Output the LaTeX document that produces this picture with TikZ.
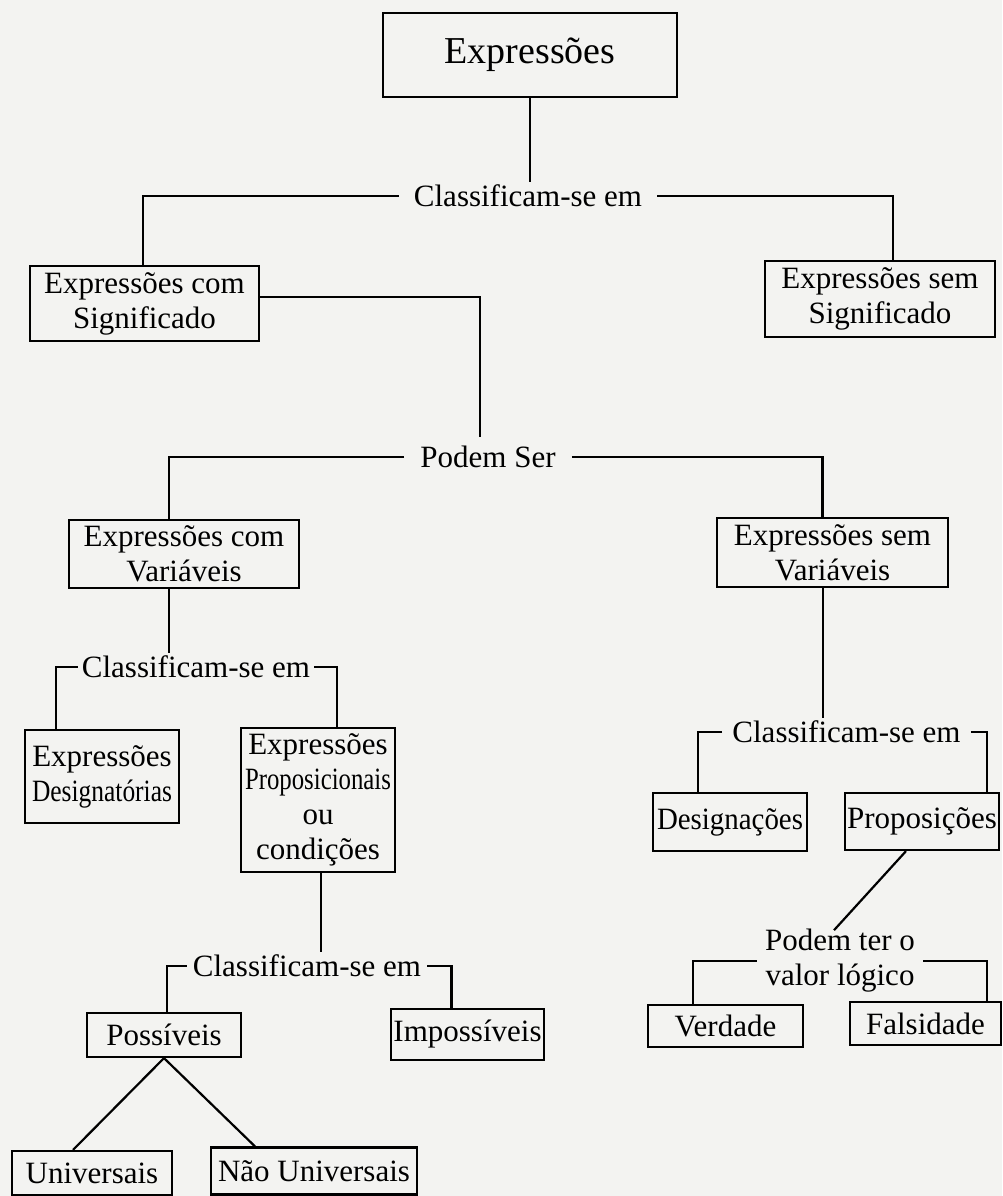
\documentclass[tikz,border=0pt]{standalone}
\usepackage{fontspec}
\setmainfont{Liberation Serif}
\usepackage{graphicx}
\newcommand\fsz{\fontsize{31}{35}\selectfont}
\newcommand\fst{\fontsize{38}{42}\selectfont}
\definecolor{paper}{RGB}{243,243,241}
\tikzset{
  box/.style={draw, line width=2.2pt, inner sep=0pt, align=center, font=\fsz},
  lbl/.style={inner ysep=3pt, align=center, font=\fsz},
  conn/.style={line width=2.2pt},
}
\begin{document}
\begin{tikzpicture}[x=1pt, y=-1pt]
\fill[paper] (0,0) rectangle (1002,1196);
\useasboundingbox (0,0) rectangle (1002,1196);

% boxes
\node[box, font=\fst, minimum width=294pt, minimum height=84pt] (title) at (530,55) {Expressões};
\node[box, minimum width=229pt, minimum height=75pt] (comsig) at (144.5,303.5) {Expressões com\\Significado};
\node[box, minimum width=230pt, minimum height=76pt] (semsig) at (880,299) {Expressões sem\\Significado};
\node[box, minimum width=230pt, minimum height=68pt] (comvar) at (184,554) {Expressões com\\Variáveis};
\node[box, minimum width=231pt, minimum height=69pt] (semvar) at (832.5,552.5) {Expressões sem\\Variáveis};
\node[box, minimum width=154pt, minimum height=93pt] (desig) at (102,776.5)
  {Expressões\\\resizebox{140pt}{\height}{Designatórias}};
\node[box, minimum width=154pt, minimum height=144pt] (prop) at (318,800)
  {Expressões\\\resizebox{146pt}{\height}{Proposicionais}\\ou\\condições};
\node[box, minimum width=154pt, minimum height=44pt] (poss) at (164,1035) {Possíveis};
\node[box, minimum width=153pt, minimum height=51pt] (imposs) at (467.5,1034.5) {Impossíveis};
\node[box, minimum width=160pt, minimum height=44pt] (univ) at (92,1173) {Universais};
\node[box, minimum width=206pt, minimum height=47pt] (naouniv) at (314,1171) {Não Universais};
\node[box, minimum width=154pt, minimum height=58pt] (design) at (730,822)
  {\resizebox{146pt}{\height}{Designações}};
\node[box, minimum width=154pt, minimum height=57pt] (props) at (922,821.5) {Proposições};
\node[box, minimum width=155pt, minimum height=42pt] (verd) at (725.5,1026) {Verdade};
\node[box, minimum width=151pt, minimum height=43pt] (fals) at (925.5,1023.5) {Falsidade};

% labels
\node[lbl, inner xsep=15pt] (cls1) at (528,196) {Classificam-se em};
\node[lbl, inner xsep=16pt] (podem) at (488,457) {Podem Ser};
\node[lbl, inner xsep=4pt] (cls2) at (196,667) {Classificam-se em};
\node[lbl, inner xsep=6pt] (cls3) at (307,966) {Classificam-se em};
\node[lbl, inner xsep=10pt] (cls4) at (846.5,732) {Classificam-se em};
\node[lbl, inner xsep=8pt] (podemter) at (840,961) {Podem ter o\\valor lógico};

% connectors
\draw[conn] (title.south) -- (title.south |- cls1.north);
\draw[conn] (cls1.west) -| ([xshift=-1.5pt]comsig.north);
\draw[conn] (cls1.east) -| ([xshift=13pt]semsig.north);
\draw[conn] ([yshift=6.5pt]comsig.east) -| ([xshift=-8pt,yshift=6pt]podem.north);
\draw[conn] (podem.west) -| ([xshift=-15pt]comvar.north);
\draw[conn] (podem.east) -| ([xshift=-10pt]semvar.north);
\draw[conn] ([xshift=-15pt]comvar.south) -- ([xshift=-15pt]comvar.south |- cls2.north);
\draw[conn] (cls2.west) -| ([xshift=-46pt]desig.north);
\draw[conn] (cls2.east) -| ([xshift=19pt]prop.north);
\draw[conn] ([xshift=3pt]prop.south) -- ([xshift=3pt]prop.south |- cls3.north);
\draw[conn] (cls3.west) -| ([xshift=3pt]poss.north);
\draw[conn] (cls3.east) -| ([xshift=-16pt]imposs.north);
\draw[conn] (poss.south) -- ([xshift=-19pt]univ.north);
\draw[conn] (poss.south) -- ([xshift=-59pt]naouniv.north);
\draw[conn] ([xshift=-9.5pt]semvar.south) -- ([xshift=-9.5pt]semvar.south |- cls4.north);
\draw[conn] (cls4.west) -| ([xshift=-32pt]design.north);
\draw[conn] (cls4.east) -| ([xshift=65pt]props.north);
\draw[conn] ([xshift=-16pt]props.south) -- ([xshift=-6pt,yshift=-4pt]podemter.north);
\draw[conn] (podemter.west) -| ([xshift=-32.5pt]verd.north);
\draw[conn] (podemter.east) -| ([xshift=61.5pt]fals.north);
\end{tikzpicture}
\end{document}
